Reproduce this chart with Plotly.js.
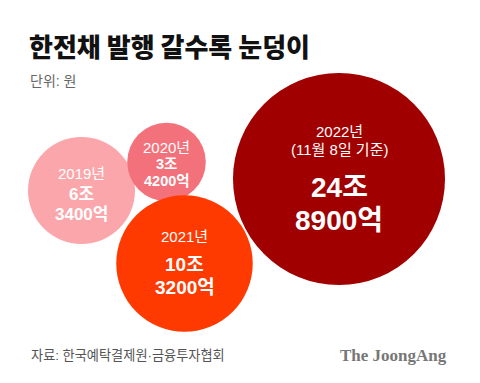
<!DOCTYPE html>
<html>
<head>
<meta charset="utf-8">
<script src="https://cdn.plot.ly/plotly-3.0.1.min.js"></script>
<style>
html,body{margin:0;padding:0;background:#fff;}
#chart{width:480px;height:383px;}
</style>
</head>
<body>
<div id="chart"></div>
<script>
// ---- data ----
const years = ["2019년", "2020년", "2021년", "2022년"];
const notes = ["", "", "", "(11월 8일 기준)"];
const valuesJo = [6.34, 3.42, 10.32, 24.89];           // 조 원
const labelJo = ["6조", "3조", "10조", "24조"];
const labelEok = ["3400억", "4200억", "3200억", "8900억"];

// ---- layout (bubble placement, styles) ----
const posX = [81.5, 166.5, 184.5, 339];
const posY = [190.5, 162, 263.5, 179];
const colors = ["#fba6aa", "#f3717a", "#ff3a00", "#a10000"];
const maxRadius = 106;
const sizeref = Math.max(...valuesJo) / (2 * maxRadius * maxRadius);

const textStyle = [
  {year: -17, jo: 3.5, eok: 23.5, ys: 15, vs: 17},
  {year: -15, jo: 1.5, eok: 19, ys: 15, vs: 14.5},
  {year: -27.5, jo: 0.5, eok: 23.5, ys: 15, vs: 19},
  {year: -48, note: -30, jo: 8, eok: 41, ys: 15, vs: 28}
];

const latin = "Liberation Sans, Noto Sans CJK KR, sans-serif";
const kr = "Noto Sans CJK KR, sans-serif";

const trace = {
  type: "scatter",
  mode: "markers",
  x: posX,
  y: posY,
  hoverinfo: "skip",
  marker: {
    size: valuesJo,
    sizemode: "area",
    sizeref: sizeref,
    color: colors,
    opacity: 1,
    line: {width: 0}
  }
};

const annotations = [];
years.forEach((yr, i) => {
  const s = textStyle[i];
  const base = {x: posX[i], y: posY[i], xref: "x", yref: "y", showarrow: false,
                xanchor: "center", yanchor: "middle"};
  annotations.push(Object.assign({}, base, {text: yr, yshift: -s.year,
    font: {family: latin, size: s.ys, color: "#ffffff"}}));
  if (notes[i]) {
    annotations.push(Object.assign({}, base, {text: notes[i], yshift: -s.note,
      font: {family: latin, size: s.ys, color: "#ffffff"}}));
  }
  annotations.push(Object.assign({}, base, {text: "<b>" + labelJo[i] + "</b>", yshift: -s.jo,
    font: {family: latin, size: s.vs, color: "#ffffff", weight: 700}}));
  annotations.push(Object.assign({}, base, {text: "<b>" + labelEok[i] + "</b>", yshift: -s.eok,
    font: {family: latin, size: s.vs, color: "#ffffff", weight: 700}}));
});

// titles and footer
annotations.push({text: "한전채 발행 갈수록 눈덩이", xref: "paper", yref: "paper",
  x: 27/480, y: 1 - 45/383, xanchor: "left", yanchor: "middle", showarrow: false,
  font: {family: kr, size: 26, color: "#111111", weight: 900}});
annotations.push({text: "단위: 원", xref: "paper", yref: "paper",
  x: 28/480, y: 1 - 81/383, xanchor: "left", yanchor: "middle", showarrow: false,
  font: {family: latin, size: 14, color: "#666666"}});
annotations.push({text: "자료: 한국예탁결제원·금융투자협회", xref: "paper", yref: "paper",
  x: 29/480, y: 1 - 355/383, xanchor: "left", yanchor: "middle", showarrow: false,
  font: {family: latin, size: 13.2, color: "#555555"}});
annotations.push({text: "<b>The JoongAng</b>", xref: "paper", yref: "paper",
  x: 449/480, y: 1 - 355/383, xanchor: "right", yanchor: "middle", showarrow: false,
  font: {family: "Liberation Serif, DejaVu Serif, serif", size: 17, color: "#777777", weight: 700}});

const layout = {
  width: 480, height: 383,
  margin: {l: 0, r: 0, t: 0, b: 0},
  paper_bgcolor: "#ffffff",
  plot_bgcolor: "#ffffff",
  showlegend: false,
  xaxis: {range: [0, 480], visible: false, fixedrange: true},
  yaxis: {range: [383, 0], visible: false, fixedrange: true},
  annotations: annotations
};

Plotly.newPlot("chart", [trace], layout, {displayModeBar: false, staticPlot: true});
</script>
</body>
</html>
